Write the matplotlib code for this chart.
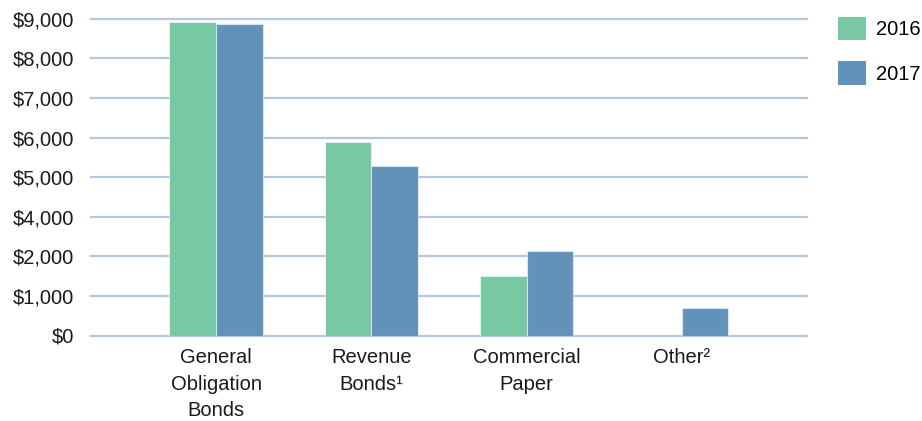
import numpy as np
import matplotlib
matplotlib.use("Agg")
import matplotlib.pyplot as plt
from matplotlib.patches import Patch

plt.rcParams['font.family'] = ['Liberation Sans', 'DejaVu Sans']

categories = ["General\nObligation\nBonds", "Revenue\nBonds\u00b9", "Commercial\nPaper", "Other\u00b2"]
years = ["2016", "2017"]
values_2016 = [8920, 5890, 1510, np.nan]
values_2017 = [8870, 5290, 2270, 690]

# the printed axis steps straight from $2,000 to $4,000, so gridlines are
# evenly spaced but the value scale is piecewise
tick_values = [0, 1000, 2000, 4000, 5000, 6000, 7000, 8000, 9000]
tick_labels = ["$0", "$1,000", "$2,000", "$4,000", "$5,000", "$6,000", "$7,000", "$8,000", "$9,000"]

green = "#79c8a4"
blue = "#6193ba"
grid_col = "#b3c8de"
fs = 14.5

tick_pos = np.arange(len(tick_values))


def forward(v):
    return np.interp(v, tick_values, tick_pos)


def inverse(p):
    return np.interp(p, tick_pos, tick_values)


fig = plt.figure(figsize=(9.22, 4.21), dpi=100)
ax = fig.add_axes([90.7 / 922, 1 - 335.5 / 421, (806.7 - 90.7) / 922, (335.5 - 18.7) / 421])
ax.set_yscale('function', functions=(forward, inverse))

x = np.arange(len(categories))
w = 0.30
edge = (1, 1, 1, 0.55)
ax.bar(x - w / 2, values_2016, w, color=green, edgecolor=edge, linewidth=0.8, zorder=3)
ax.bar(x + w / 2, values_2017, w, color=blue, edgecolor=edge, linewidth=0.8, zorder=3)

ax.set_ylim(0, 9000)
ax.set_xlim(-0.807, 3.804)
ax.set_yticks(tick_values)
ax.set_yticklabels(tick_labels)
ax.yaxis.set_minor_locator(plt.NullLocator())
ax.set_xticks(x)
ax.set_xticklabels(categories, linespacing=1.5, va='top')

ax.set_axisbelow(True)
ax.yaxis.grid(True, color=grid_col, linewidth=1.6)
for gl in ax.get_ygridlines():
    gl.set_clip_on(False)
for s in ax.spines.values():
    s.set_visible(False)
ax.tick_params(axis='both', length=0, labelsize=fs, colors='#1a1a1a')
ax.tick_params(axis='y', pad=12)
ax.tick_params(axis='x', pad=9)

handles = [Patch(facecolor=green), Patch(facecolor=blue)]
fig.legend(handles, years, loc='upper left', bbox_to_anchor=(838 / 922, 1 - 17 / 421),
           frameon=False, fontsize=fs, handlelength=1.4, handleheight=1.4,
           labelspacing=1.05, handletextpad=0.5, borderpad=0, borderaxespad=0)

fig.savefig("out.png", dpi=100)
